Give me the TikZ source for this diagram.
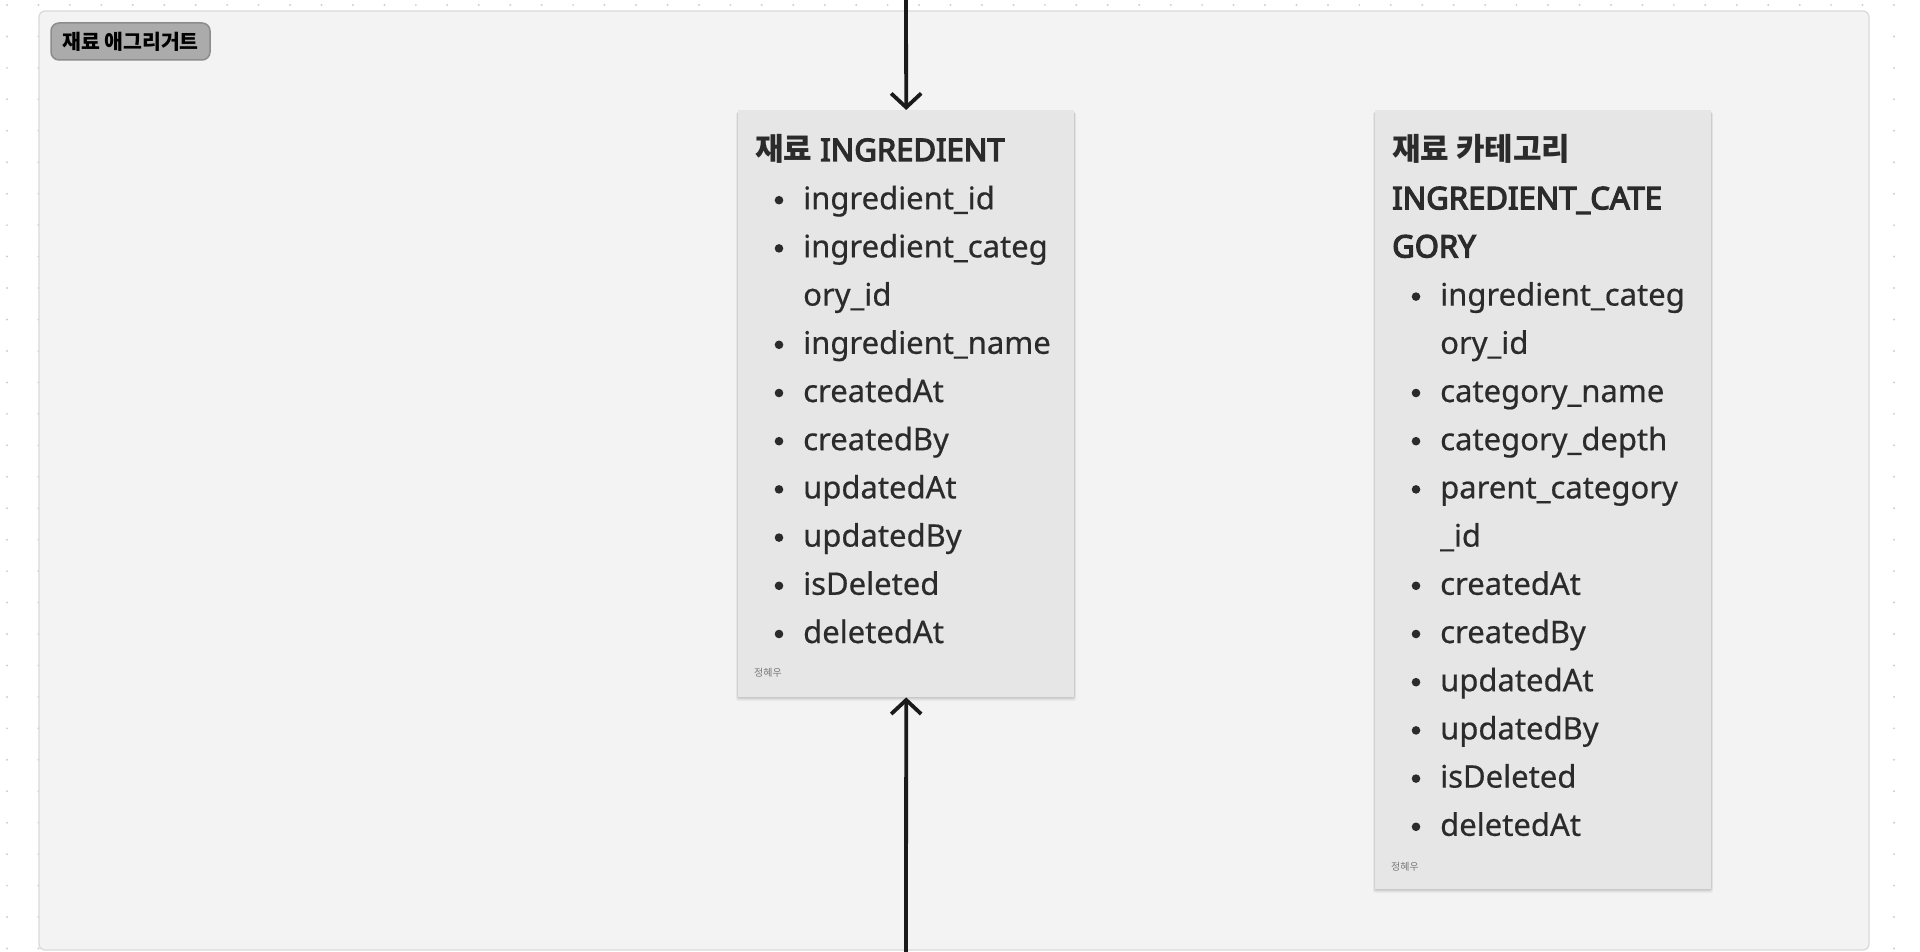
\documentclass[tikz,border=0pt]{standalone}
\usepackage{fontspec}
\setmainfont{Noto Sans}[FakeBold=0.5]
\newfontfamily\cjk{Noto Sans CJK KR}
\newfontfamily\latbold{Noto Sans}[FakeBold=4]
\usetikzlibrary{arrows.meta}
\definecolor{framefill}{HTML}{F3F3F3}
\definecolor{framedraw}{HTML}{D9D9D9}
\definecolor{cardfill}{HTML}{E6E6E6}
\definecolor{txt}{HTML}{2B2B2B}
\definecolor{dotc}{HTML}{CFCFCF}
\definecolor{tagfill}{HTML}{ABABAB}
\definecolor{tagdraw}{HTML}{8C8C8C}
\definecolor{foot}{HTML}{7A7A7A}
\definecolor{arrowc}{HTML}{1A1A1A}
\tikzset{
  card/.style={rectangle, fill=cardfill, draw=none, inner sep=0, anchor=north west},
  itemtext/.style={anchor=base west, inner sep=0, text=txt, font=\fontsize{31}{38}\selectfont},
  titletext/.style={anchor=base west, inner sep=0, text=txt, font=\latbold\fontsize{31}{38}\selectfont},
  foottext/.style={anchor=base west, inner sep=0, text=foot, font=\cjk\fontsize{10}{12}\selectfont},
  bul/.style={fill=txt},
  conn/.style={draw=arrowc, line width=3.8pt, -{Straight Barb[length=14pt,width=30pt,line width=3.8pt]}},
}
\begin{document}
\begin{tikzpicture}[x=1pt,y=-1pt]
\useasboundingbox (0,0) rectangle (1920,952);
\clip (0,0) rectangle (1920,952);
\fill[white] (0,0) rectangle (1920,952);
% dot grid
\foreach \i in {0,...,61}{\foreach \j in {0,...,30}{\fill[dotc] ({7+31.45*\i},{5+31.45*\j}) circle (1.1);}}
% frame
\draw[fill=framefill, draw=framedraw, line width=1.2pt, rounded corners=6pt] (39,11) rectangle (1869,950);
% tag
\node[rectangle, rounded corners=8pt, fill=tagfill, draw=tagdraw, line width=1.5pt, minimum width=159pt, minimum height=37pt, inner sep=0, text=black, font=\cjk\bfseries\fontsize{20.5}{22}\selectfont] (tag) at (130.5,41.5) {재료 애그리거트};
% shadows
\foreach \s/\o in {4/0.03,3/0.04,2/0.05,1/0.06}{
  \fill[black, opacity=\o, rounded corners=2pt] ({738-\s*0.5},{112}) rectangle ({1074+\s*0.5},{697+\s});
  \fill[black, opacity=\o, rounded corners=2pt] ({1375-\s*0.5},{112}) rectangle ({1711+\s*0.5},{889+\s});
}
% card 1
\node[card, minimum width=336pt, minimum height=587pt] (c1) at (738,110) {};
\node[titletext] (c1t) at (755,161) {{\cjk\bfseries 재료} INGREDIENT};
\foreach \k/\t/\b [count=\n] in {1/ingredient\_id/1, 2/ingredient\_categ/1, 3/ory\_id/0, 4/ingredient\_name/1, 5/createdAt/1, 6/createdBy/1, 7/updatedAt/1, 8/updatedBy/1, 9/isDeleted/1, 10/deletedAt/1}{
  \node[itemtext] (c1i\n) at (803,{161+48.2*\k}) {\t};
  \ifnum\b=1 \fill[bul] (779,{161+48.2*\k-9}) circle (4.3); \fi
}
\node[foottext] (c1f) at (754,676) {정혜우};
% card 2
\node[card, minimum width=336pt, minimum height=779pt] (c2) at (1375,110) {};
\node[titletext] (c2t1) at (1392,161) {\cjk\bfseries 재료 카테고리};
\node[titletext] (c2t2) at (1392,209.2) {INGREDIENT\_CATE};
\node[titletext] (c2t3) at (1392,257.4) {GORY};
\foreach \k/\t/\b [count=\n] in {3/ingredient\_categ/1, 4/ory\_id/0, 5/category\_name/1, 6/category\_depth/1, 7/parent\_category/1, 8/\_id/0, 9/createdAt/1, 10/createdBy/1, 11/updatedAt/1, 12/updatedBy/1, 13/isDeleted/1, 14/deletedAt/1}{
  \node[itemtext] (c2i\n) at (1440,{161+48.2*\k}) {\t};
  \ifnum\b=1 \fill[bul] (1416,{161+48.2*\k-9}) circle (4.3); \fi
}
\node[foottext] (c2f) at (1391,870) {정혜우};
% connectors
\coordinate (topin) at (906,-10);
\coordinate (botin) at (906,962);
\draw[conn] (topin) -- (c1.north);
\draw[conn] (botin) -- (c1.south);
\end{tikzpicture}
\end{document}
